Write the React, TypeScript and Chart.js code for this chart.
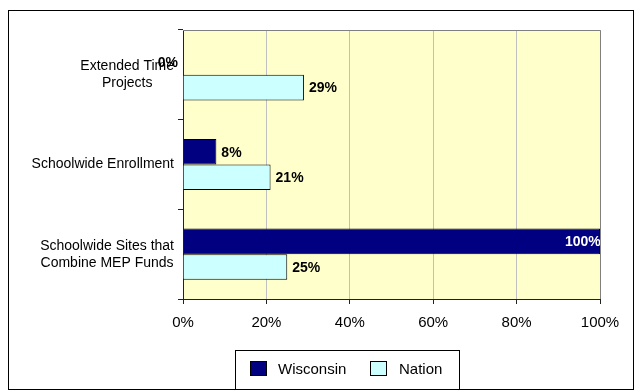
import { useEffect, useRef } from "react";
import { Chart, registerables } from "chart.js";

Chart.register(...registerables);

const categories: string[][] = [
  ["Extended Time", "Projects"],
  ["Schoolwide Enrollment"],
  ["Schoolwide Sites that", "Combine MEP Funds"],
];
const seriesNames = ["Wisconsin", "Nation"];
const wisconsin = [0, 8, 100];
const nation = [29, 21, 25];
const xMin = 0;
const xMax = 100;
const xStep = 20;

const FONT = '"Liberation Sans", Arial, sans-serif';
const COLORS = ["#000080", "#CCFFFF"];

const plotBackground = {
  id: "plotBackground",
  beforeDraw(chart: any) {
    const { ctx, chartArea: a } = chart;
    ctx.save();
    ctx.fillStyle = "#FFFFCC";
    ctx.fillRect(a.left, a.top, a.right - a.left, a.bottom - a.top);
    ctx.restore();
  },
  afterDraw(chart: any) {
    const { ctx, chartArea: a } = chart;
    ctx.save();
    ctx.strokeStyle = "#808080";
    ctx.lineWidth = 1;
    ctx.beginPath();
    ctx.moveTo(a.left, a.top + 0.5);
    ctx.lineTo(a.right + 0.5, a.top + 0.5);
    ctx.lineTo(a.right + 0.5, a.bottom);
    ctx.stroke();
    ctx.restore();
  },
};

const categoryLabels = {
  id: "categoryLabels",
  afterDraw(chart: any) {
    const { ctx } = chart;
    const y = chart.scales.y;
    ctx.save();
    ctx.font = `14px ${FONT}`;
    ctx.fillStyle = "#000";
    ctx.textAlign = "center";
    ctx.textBaseline = "middle";
    const right = chart.chartArea.left - 9;
    const lh = 17;
    categories.forEach((lines, i) => {
      const cy = y.getPixelForValue(i);
      const maxW = Math.max(...lines.map((l) => ctx.measureText(l).width));
      const cx = right - maxW / 2;
      lines.forEach((l, j) => {
        ctx.fillText(l, cx, cy + (j - (lines.length - 1) / 2) * lh);
      });
    });
    ctx.restore();
  },
};

const valueLabels = {
  id: "valueLabels",
  afterDatasetsDraw(chart: any) {
    const { ctx, chartArea: a } = chart;
    ctx.save();
    ctx.font = `bold 14px ${FONT}`;
    ctx.textBaseline = "middle";
    chart.data.datasets.forEach((ds: any, di: number) => {
      const meta = chart.getDatasetMeta(di);
      meta.data.forEach((bar: any, i: number) => {
        const v = ds.data[i];
        const text = `${v}%`;
        ctx.save();
        if (v >= xMax) {
          ctx.beginPath();
          ctx.rect(a.left, a.top, a.right - a.left, a.bottom - a.top);
          ctx.clip();
          ctx.fillStyle = "#FFFFFF";
          ctx.textAlign = "left";
          ctx.fillText(text, bar.x - 35, bar.y + 1);
        } else if (v === 0) {
          ctx.fillStyle = "#000";
          ctx.textAlign = "right";
          ctx.fillText(text, bar.x - 5, bar.y + 1);
        } else {
          ctx.fillStyle = "#000";
          ctx.textAlign = "left";
          ctx.fillText(text, bar.x + 5, bar.y + 1);
        }
        ctx.restore();
      });
    });
    ctx.restore();
  },
};

const frameAndLegend = {
  id: "frameAndLegend",
  afterDraw(chart: any) {
    const { ctx } = chart;
    ctx.save();
    ctx.strokeStyle = "#000";
    ctx.lineWidth = 1;
    ctx.strokeRect(8.5, 10.5, 625, 379);
    // legend box
    ctx.strokeRect(235.5, 350.5, 224, 39);
    ctx.font = `15px ${FONT}`;
    ctx.textBaseline = "middle";
    ctx.textAlign = "left";
    const items = [
      { x: 250, tx: 278 },
      { x: 370, tx: 399 },
    ];
    seriesNames.forEach((name, i) => {
      const it = items[i];
      ctx.fillStyle = COLORS[i];
      ctx.fillRect(it.x + 0.5, 361.5, 16, 14);
      ctx.strokeStyle = "#000";
      ctx.strokeRect(it.x + 0.5, 361.5, 16, 14);
      ctx.fillStyle = "#000";
      ctx.fillText(name, it.tx, 369.5);
    });
    ctx.restore();
  },
};

export default function App() {
  const ref = useRef<HTMLCanvasElement>(null);

  useEffect(() => {
    if (!ref.current) return;
    Chart.defaults.font.family = FONT;
    const chart = new Chart(ref.current, {
      type: "bar",
      data: {
        labels: categories.map((c) => c.join(" ")),
        datasets: [
          {
            label: seriesNames[0],
            data: wisconsin,
            backgroundColor: COLORS[0],
            borderColor: "#000",
            borderWidth: 1,
            categoryPercentage: 0.57,
            barPercentage: 1.0,
          },
          {
            label: seriesNames[1],
            data: nation,
            backgroundColor: COLORS[1],
            borderColor: "#000",
            borderWidth: 1,
            categoryPercentage: 0.57,
            barPercentage: 1.0,
          },
        ],
      },
      options: {
        indexAxis: "y",
        responsive: false,
        animation: false,
        layout: { padding: { left: 0, top: 30, right: 41, bottom: 0 } },
        plugins: {
          legend: { display: false },
          tooltip: { enabled: false },
        },
        scales: {
          x: {
            min: xMin,
            max: xMax,
            ticks: {
              stepSize: xStep,
              callback: (v: any) => `${v}%`,
              font: { size: 15, family: FONT },
              color: "#000",
              padding: 10,
            },
            grid: {
              color: "#C0C0C0",
              tickColor: "#222",
              tickLength: 5,
            },
            border: { color: "#222", width: 1 },
            afterFit: (s: any) => {
              s.height = 93;
            },
          },
          y: {
            offset: true,
            ticks: { display: false },
            grid: {
              offset: true,
              drawOnChartArea: false,
              tickColor: "#222",
              tickLength: 5,
            },
            border: { color: "#222", width: 1 },
            afterFit: (s: any) => {
              s.width = 183;
            },
          },
        },
      },
      plugins: [plotBackground, categoryLabels, valueLabels, frameAndLegend],
    } as any);
    return () => chart.destroy();
  }, []);

  return (
    <div style={{ position: "fixed", left: 0, top: 0, width: 641, height: 392, background: "#fff" }}>
      <canvas ref={ref} width={641} height={392} style={{ display: "block" }} />
    </div>
  );
}
